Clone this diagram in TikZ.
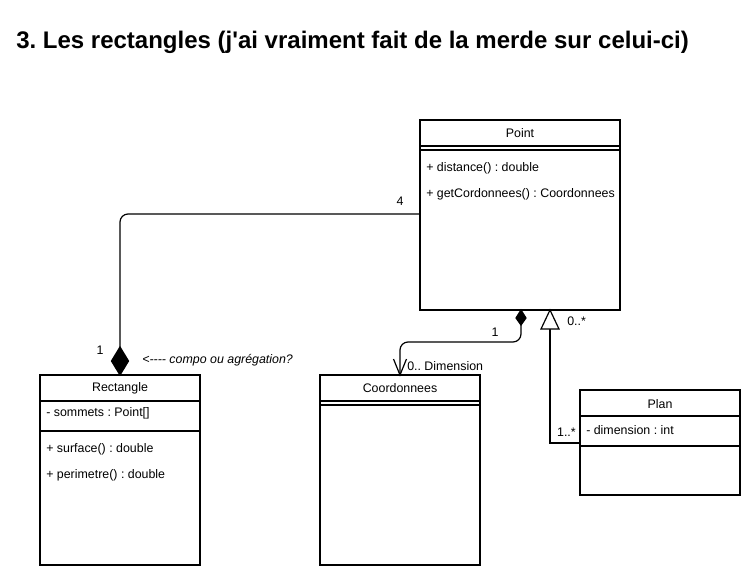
\documentclass[tikz,border=0pt]{standalone}
\usepackage{fontspec}
\setmainfont{Liberation Sans}[Ligatures=TeXOff]
\usetikzlibrary{arrows.meta}
\begin{document}
\frenchspacing
\begin{tikzpicture}[x=0.75pt,y=-0.75pt,
  box/.style={draw,line width=0.9pt,rectangle,inner sep=0pt,outer sep=0pt,anchor=north west},
  sep/.style={line width=0.9pt},
  txt/.style={font=\fontsize{9.3}{10}\selectfont,inner sep=0pt},
  lbl/.style={font=\fontsize{9.3}{10}\selectfont,inner sep=0pt},
  conn/.style={line width=0.9pt,rounded corners=6pt},
  diam/.style={draw,fill=black,line width=0.9pt},
  gentri/.style={draw,fill=white,line width=0.9pt}
]
\useasboundingbox (0,0) rectangle (751,576);
% title
\node[anchor=base west,inner sep=0pt,font=\fontsize{18}{21}\selectfont\bfseries] (title) at (16,48) {3. Les rectangles (j'ai vraiment fait de la merde sur celui-ci)};

% Point
\node[box,minimum width=150pt,minimum height=142.5pt] (point) at (420,120) {};
\draw[sep] (420,146) -- (620,146);
\draw[sep] (420,150) -- (620,150);
\node[txt] (pointT) at (520,133) {Point};
\node[txt,anchor=west] (pointM1) at (426,168) {+ distance() : double};
\node[txt,anchor=west] (pointM2) at (426,194) {+ getCordonnees() : Coordonnees};

% Rectangle
\node[box,minimum width=120pt,minimum height=142.5pt] (rect) at (40,375) {};
\draw[sep] (40,401) -- (200,401);
\draw[sep] (40,431) -- (200,431);
\node[txt] (rectT) at (120,388) {Rectangle};
\node[txt,anchor=west] (rectA) at (46,413) {- sommets : Point[]};
\node[txt,anchor=west] (rectM1) at (46,449) {+ surface() : double};
\node[txt,anchor=west] (rectM2) at (46,475) {+ perimetre() : double};

% Coordonnees
\node[box,minimum width=120pt,minimum height=142.5pt] (coord) at (320,375) {};
\draw[sep] (320,401) -- (480,401);
\draw[sep] (320,405) -- (480,405);
\node[txt] (coordT) at (400,388) {Coordonnees};

% Plan
\node[box,minimum width=120pt,minimum height=78.75pt] (plan) at (580,390) {};
\draw[sep] (580,416) -- (740,416);
\draw[sep] (580,446) -- (740,446);
\node[txt] (planT) at (660,404) {Plan};
\node[txt,anchor=west] (planA) at (586,430) {- dimension : int};

% Point -> Rectangle composition
\coordinate (d1top) at (120,347);
\coordinate (d1bot) at (rect.north -| d1top);
\draw[conn] (point.west |- 0,214) -- (120,214) -- (d1top);
\draw[diam] (120,347) -- (128.5,361) -- (d1bot) -- (111.5,361) -- cycle;
\node[lbl] (m4) at (400,201) {4};
\node[lbl] (m1a) at (100,350) {1};
\node[lbl,anchor=west,font=\fontsize{9.3}{10}\selectfont\itshape] (note) at (142,360) {<---- compo ou agrégation?};

% Point -> Coordonnees
\coordinate (d2top) at (point.south -| 521,0);
\coordinate (d2bot) at (521,325);
\draw[diam] (d2top) -- (526,318) -- (d2bot) -- (516,318) -- cycle;
\draw[conn] (d2bot) -- (521,342) -- (400,342) -- (coord.north -| 400,0);
\draw[line width=0.9pt] (393.5,359) -- (coord.north -| 400,0) -- (406.5,359);
\node[lbl] (m1b) at (495,332) {1};
\node[lbl,anchor=west] (m0d) at (407,366) {0.. Dimension};

% Plan -> Point generalization
\coordinate (tribase) at (550,329);
\draw[line width=0.9pt] (plan.west |- 0,443) -- (550,443) -- (tribase);
\draw[gentri] (point.south -| 550,0) -- (559,329) -- (541,329) -- cycle;
\node[lbl,anchor=west] (m0s) at (567,321) {0..*};
\node[lbl,anchor=east] (m1s) at (576,432) {1..*};
\end{tikzpicture}
\end{document}
